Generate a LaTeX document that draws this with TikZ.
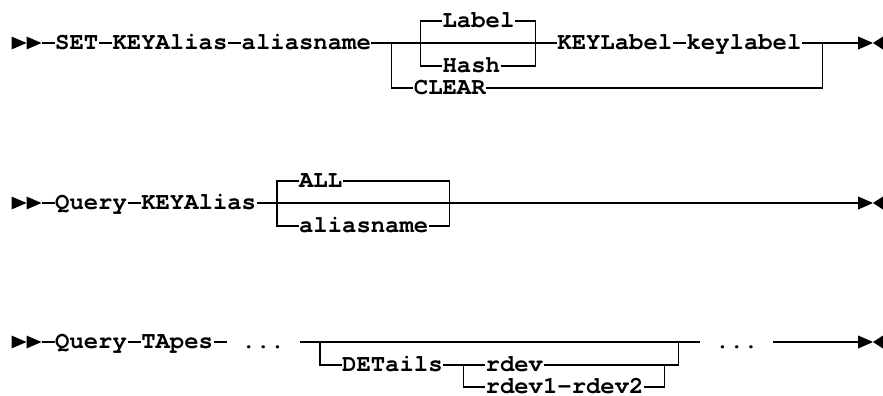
\documentclass[tikz,border=0pt]{standalone}
\usepackage{fontspec}
\setmonofont{texgyrecursor}[Extension=.otf, UprightFont=*-regular, BoldFont=*-bold]
\usepackage{tikz}

\tikzset{
  kw/.style={font=\fontsize{11.96pt}{14pt}\selectfont\ttfamily\bfseries,
    inner sep=0pt, anchor=west, text height=6.9pt, text depth=0pt},
  dots/.style={kw, inner xsep=7.175pt},
}

\begin{document}
\begin{tikzpicture}[x=0.5pt, y=-0.5pt, line width=0.6pt]
  \useasboundingbox (0,0) rectangle (883,396);

  % Start and end marks of the three rows
  \foreach \y in {43,203,342} {
    \fill (11.5,\y-6.5) -- (26.5,\y) -- (11.5,\y+6.5) -- cycle;
    \fill (26.5,\y-6.5) -- (41.5,\y) -- (26.5,\y+6.5) -- cycle;
    \fill (858.2,\y-6.5) -- (873,\y) -- (858.2,\y+6.5) -- cycle;
    \fill (883,\y-6.5) -- (873,\y) -- (883,\y+6.5) -- cycle;
  }

  % Row 1: SET KEYAlias
  \coordinate (s1) at (41.5,43);
  \coordinate (e1) at (858.2,43);
  \coordinate (a1) at (391.7,43);
  \coordinate (a2) at (420.5,43);
  \coordinate (a3) at (535.3,43);
  \coordinate (a4) at (822.3,43);
  \node[kw] (set) at (54.55,43) {SET};
  \node[kw] (kalias) at (111.95,43) {KEYAlias};
  \node[kw] (aname) at (241.1,43) {aliasname};
  \node[kw] (label) at (442.0,21) {Label};
  \node[kw] (hash) at (442.0,66) {Hash};
  \node[kw] (clear) at (413.3,88) {CLEAR};
  \node[kw] (klabel) at (556.8,43) {KEYLabel};
  \node[kw] (klab) at (686.0,43) {keylabel};

  \draw (s1) -- (set.west);
  \draw (set.east) -- (kalias.west);
  \draw (kalias.east) -- (aname.west);
  \draw (aname.east) -- (klabel.west);
  \draw (label.west) -| (a2) |- (hash.west);
  \draw (label.east) -| (a3) |- (hash.east);
  \draw (a1) |- (clear.west);
  \draw (clear.east) -| (a4);
  \draw (klabel.east) -- (klab.west);
  \draw (klab.east) -- (e1);

  % Row 2: Query KEYAlias
  \coordinate (s2) at (41.5,203);
  \coordinate (e2) at (858.2,203);
  \coordinate (b1) at (277.0,203);
  \coordinate (b2) at (449.2,203);
  \node[kw] (query) at (54.55,203) {Query};
  \node[kw] (qalias) at (140.65,203) {KEYAlias};
  \node[kw] (all) at (298.5,181) {ALL};
  \node[kw] (qname) at (298.5,226) {aliasname};

  \draw (s2) -- (query.west);
  \draw (query.east) -- (qalias.west);
  \draw (qalias.east) -- (e2);
  \draw (all.west) -| (b1) |- (qname.west);
  \draw (all.east) -| (b2) |- (qname.east);

  % Row 3: Query TApes
  \coordinate (s3) at (41.5,342);
  \coordinate (e3) at (858.2,342);
  \coordinate (c1) at (320.0,342);
  \coordinate (c2) at (463.5,365);
  \coordinate (c3) at (664.2,365);
  \coordinate (c4) at (678.5,342);
  \node[kw] (tquery) at (54.55,342) {Query};
  \node[kw] (tapes) at (140.65,342) {TApes};
  \node[dots] (dotsa) at (226.75,342) {...};
  \node[dots] (dotsb) at (700.3,342) {...};
  \node[kw] (det) at (341.55,365) {DETails};
  \node[kw] (rdev) at (485.05,365) {rdev};
  \node[kw] (rdevs) at (485.05,387) {rdev1-rdev2};

  \draw (s3) -- (tquery.west);
  \draw (tquery.east) -- (tapes.west);
  \draw (tapes.east) -- (dotsa.west);
  \draw (dotsa.east) -- (dotsb.west);
  \draw (dotsb.east) -- (e3);
  \draw (c1) |- (det.west);
  \draw (det.east) -- (rdev.west);
  \draw (c2) |- (rdevs.west);
  \draw (rdev.east) -| (c4);
  \draw (rdevs.east) -| (c3);
\end{tikzpicture}
\end{document}
